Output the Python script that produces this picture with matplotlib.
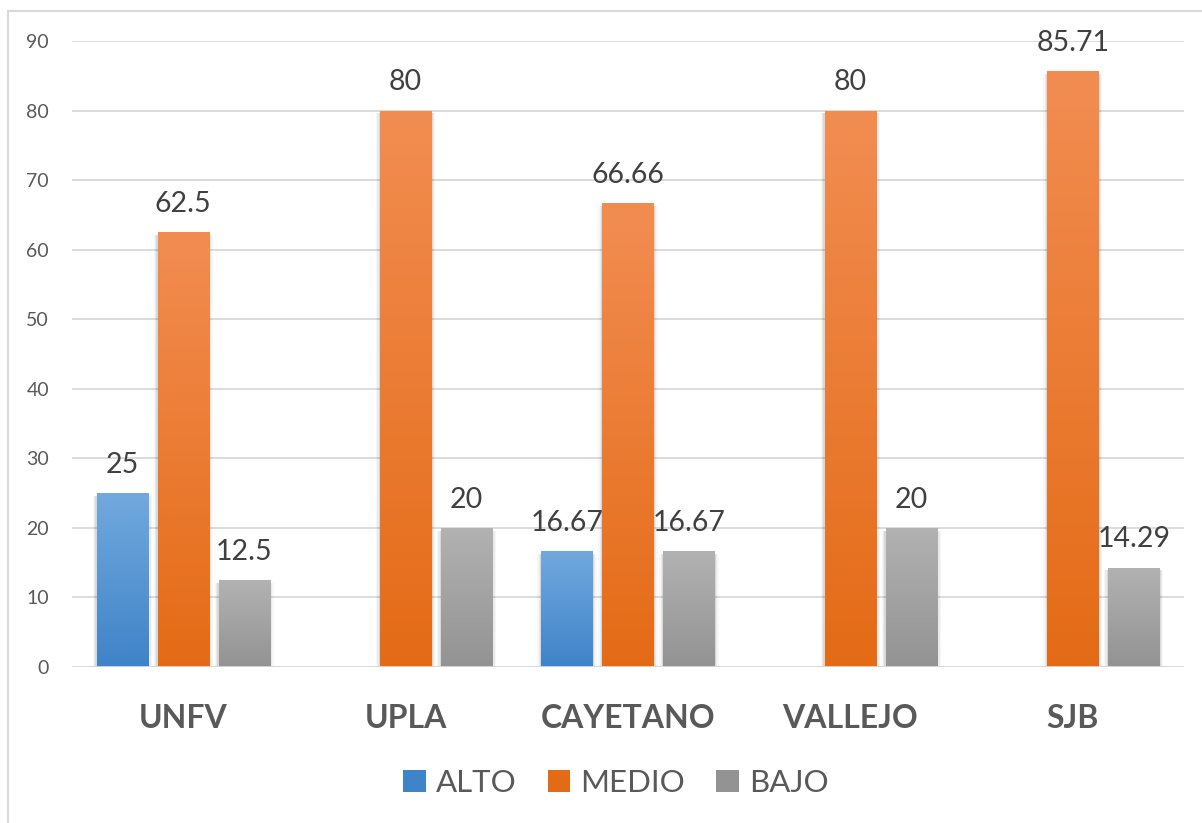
import numpy as np
import matplotlib
matplotlib.use("Agg")
import matplotlib.pyplot as plt
from matplotlib.patches import Rectangle
from matplotlib.colors import LinearSegmentedColormap

categories = ["UNFV", "UPLA", "CAYETANO", "VALLEJO", "SJB"]
series_names = ["ALTO", "MEDIO", "BAJO"]
alto = [25, 0, 16.67, 0, 0]
medio = [62.5, 80, 66.66, 80, 85.71]
bajo = [12.5, 20, 16.67, 20, 14.29]
yticks = [0, 10, 20, 30, 40, 50, 60, 70, 80, 90]

series = [alto, medio, bajo]
grad = {
    "ALTO": ("#72a9de", "#3f83c8"),
    "MEDIO": ("#f28d52", "#e46b16"),
    "BAJO": ("#b2b2b2", "#939393"),
}

plt.rcParams['font.family'] = ['Lato', 'DejaVu Sans']

fig = plt.figure(figsize=(12.02, 8.23), dpi=100)
W, H = 1202, 823
ax = fig.add_axes([72 / W, 1 - 667 / H, (1184 - 72) / W, (667 - 41) / H])
ax.set_xlim(-0.5, 4.5)
ax.set_ylim(0, 90)

# outer frame (left/top visible)
fig.patches.append(Rectangle((8 / W, -0.1), 1.2, (1 - 11 / H) + 0.1,
                             transform=fig.transFigure, fill=False,
                             edgecolor="#d9d9d9", linewidth=1.5, zorder=0))

for y in yticks:
    ax.axhline(y, color="#d9d9d9", linewidth=1.3, zorder=0)

width = 0.23
step = 0.274
x = np.arange(len(categories))
for si, (name, vals) in enumerate(zip(series_names, series)):
    top_c, bot_c = grad[name]
    cmap = LinearSegmentedColormap.from_list(name, [bot_c, top_c])
    for xi, v in zip(x, vals):
        if v <= 0:
            continue
        x0 = xi + (si - 1) * step - width / 2
        # soft side shadow
        for k, a in enumerate([0.07, 0.05, 0.03]):
            d = 0.006 * (k + 1)
            sh = Rectangle((x0 - d, 0), width + 2 * d, v - 0.4,
                           facecolor="black", alpha=a, edgecolor="none", zorder=1)
            ax.add_patch(sh)
        rect = Rectangle((x0, 0), width, v, facecolor="none", edgecolor="none", zorder=2)
        ax.add_patch(rect)
        img = ax.imshow(np.linspace(0, 1, 256).reshape(-1, 1), cmap=cmap,
                        extent=(x0, x0 + width, 0, v), origin="lower",
                        aspect="auto", zorder=2, interpolation="bilinear")
        img.set_clip_path(rect)
        ax.annotate(f"{v:g}", (xi + (si - 1) * step, v), xytext=(0, 14.5),
                    textcoords="offset points", ha="center", va="baseline",
                    fontsize=20.5, color="#404040", zorder=3)

ax.set_xlim(-0.5, 4.5)
ax.set_ylim(0, 90)
ax.set_yticks(yticks)
ax.set_yticklabels([str(t) for t in yticks], fontsize=14, color="#595959")
ax.set_xticks(x)
ax.set_xticklabels(categories, fontsize=23, fontweight="bold", color="#595959")
ax.tick_params(axis="both", length=0)
ax.tick_params(axis="x", pad=27)
ax.tick_params(axis="y", pad=16.5)
for s in ax.spines.values():
    s.set_visible(False)
ax.axhline(0, color="#d9d9d9", linewidth=2, zorder=4)

# legend
handles = []
for name in series_names:
    handles.append(Rectangle((0, 0), 1, 1, facecolor=grad[name][1], edgecolor="none"))
leg = fig.legend(handles, series_names, loc="center", bbox_to_anchor=(616 / W, 1 - 783 / H),
                 ncol=3, frameon=False, fontsize=22.5, handlelength=0.72, handleheight=0.72,
                 handletextpad=0.32, columnspacing=1.0, labelcolor="#595959")

fig.savefig("out.png", dpi=100, facecolor="white")
